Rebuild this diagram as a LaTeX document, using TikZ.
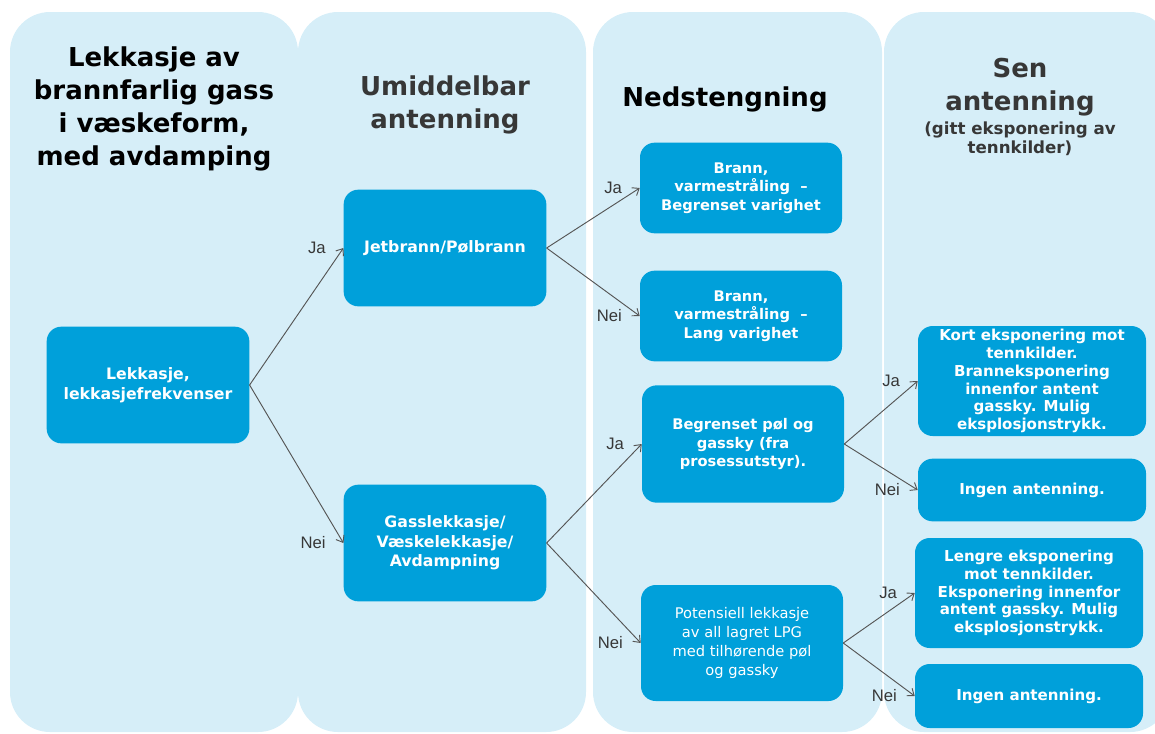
\documentclass[tikz,border=0pt]{standalone}
\usepackage{fontspec}
\setmainfont{DejaVu Sans}
\newfontfamily\labfont{Liberation Sans}
\usetikzlibrary{positioning,arrows.meta}
\definecolor{colbg}{RGB}{214,238,248}
\definecolor{boxbg}{RGB}{0,160,218}
\definecolor{headgray}{RGB}{55,55,55}
\definecolor{linegray}{RGB}{85,85,85}

\begin{document}
\begin{tikzpicture}[x=0.75pt,y=-0.75pt,
  col/.style={fill=colbg,rounded corners=30pt},
  head/.style={align=center,inner sep=0pt,font=\bfseries\fontsize{19.5}{24.8}\selectfont},
  box/.style={fill=boxbg,rounded corners=11pt,text=white,align=center,inner sep=0pt,
    font=\bfseries\fontsize{11}{13.9}\selectfont},
  bigbox/.style={box,minimum width=152pt,minimum height=87.5pt,
    font=\bfseries\fontsize{11.8}{14.6}\selectfont},
  midbox/.style={box,minimum width=151.5pt},
  endbox/.style={box,minimum width=171pt,font=\bfseries\fontsize{11.3}{13.4}\selectfont},
  arr/.style={->,draw=linegray,line width=0.7pt},
  ans/.style={pos=1,left=13pt,inner sep=0pt,text=headgray,font=\labfont\fontsize{12.5}{14}\selectfont},
  >={Straight Barb[length=4.5pt,width=7pt]}]
\useasboundingbox (0,0) rectangle (1155,733);
\fill[col] (10,12) rectangle (298,732);
\fill[col] (298,12) rectangle (586,732);
\fill[col] (593,12) rectangle (882,732);
\fill[col] (884,12) rectangle (1170,732);

\node[head] (leakhead) at (154,109) {Lekkasje av\\brannfarlig gass\\i væskeform,\\med avdamping};
\node[head,text=headgray] (ignhead) at (445,105) {Umiddelbar\\antenning};
\node[head] (shuthead) at (725,99) {Nedstengning};
\node[head,text=headgray] (latehead) at (1020,87) {Sen\\antenning};
\node[head,text=headgray,below=4pt of latehead,font=\bfseries\fontsize{12.5}{14.5}\selectfont] (latesub) {(gitt eksponering av\\tennkilder)};

\node[bigbox] (leak) at (148,385) {Lekkasje,\\lekkasjefrekvenser};
\node[bigbox] (jet) at (445,248) {Jetbrann/Pølbrann};
\node[bigbox] (gas) at (445,543) {Gasslekkasje/\\Væskelekkasje/\\Avdampning};

\node[midbox,minimum height=68pt] (fireshort) at (741,188) {Brann,\\varmestråling~~–\\Begrenset varighet};
\node[midbox,minimum height=68pt] (firelong) at (741,316) {Brann,\\varmestråling~~–\\Lang varighet};
\node[midbox,minimum height=88pt] (pool) at (743,444) {Begrenset pøl og\\gassky (fra\\prosessutstyr).};
\node[midbox,minimum height=87pt,font=\fontsize{11}{14.2}\selectfont] (lpg) at (742,643) {Potensiell lekkasje\\av all lagret LPG\\med tilhørende pøl\\og gassky};

\node[endbox,minimum height=82.5pt] (shortexp) at (1032,381) {Kort eksponering mot\\tennkilder.\\Branneksponering\\innenfor antent\\gassky. Mulig\\eksplosjonstrykk.};
\node[endbox,minimum height=47pt] (noign1) at (1032,490) {Ingen antenning.};
\node[endbox,minimum height=82.5pt] (longexp) at (1029,593) {Lengre eksponering\\mot tennkilder.\\Eksponering innenfor\\antent gassky. Mulig\\eksplosjonstrykk.};
\node[endbox,minimum height=48pt] (noign2) at (1029,696) {Ingen antenning.};

\draw[arr] (leak.east) -- (jet.west) node[ans] {Ja};
\draw[arr] (leak.east) -- (gas.west) node[ans] {Nei};
\draw[arr] (jet.east) -- (fireshort.west) node[ans] {Ja};
\draw[arr] (jet.east) -- (firelong.west) node[ans] {Nei};
\draw[arr] (gas.east) -- (pool.west) node[ans] {Ja};
\draw[arr] (gas.east) -- (lpg.west) node[ans] {Nei};
\draw[arr] (pool.east) -- (shortexp.west) node[ans] {Ja};
\draw[arr] (pool.east) -- (noign1.west) node[ans] {Nei};
\draw[arr] (lpg.east) -- (longexp.west) node[ans] {Ja};
\draw[arr] (lpg.east) -- (noign2.west) node[ans] {Nei};
\end{tikzpicture}
\end{document}
